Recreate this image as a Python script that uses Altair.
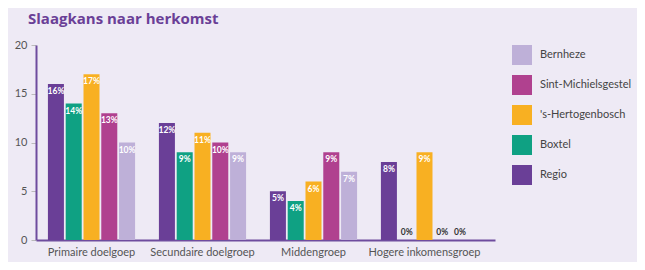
import altair as alt
import pandas as pd

groups = ["Primaire doelgoep", "Secundaire doelgroep", "Middengroep", "Hogere inkomensgroep"]
series = ["Regio", "Boxtel", "'s-Hertogenbosch", "Sint-Michielsgestel", "Bernheze"]
colors = ["#6A3F97", "#0FA183", "#F8B022", "#B0418F", "#BEB0D8"]
legend_order = ["Bernheze", "Sint-Michielsgestel", "'s-Hertogenbosch", "Boxtel", "Regio"]

regio = [16, 12, 5, 8]
boxtel = [14, 9, 4, 0]
hertogenbosch = [17, 11, 6, 9]
michielsgestel = [13, 10, 9, 0]
bernheze = [10, 9, 7, 0]

values = [regio, boxtel, hertogenbosch, michielsgestel, bernheze]
rows = []
for s, vals in zip(series, values):
    for g, v in zip(groups, vals):
        rows.append({"groep": g, "gemeente": s, "waarde": v, "label": f"{v}%"})
df = pd.DataFrame(rows)

FONT = "Lato"

x = alt.X("groep:N", sort=groups, title=None,
          scale=alt.Scale(paddingInner=0, paddingOuter=0.0676, align=0),
          axis=alt.Axis(labelAngle=0, labelFontSize=11, labelColor="#555",
                        labelFont=FONT, ticks=False, domainColor="#6E4C9E",
                        domainWidth=2, labelPadding=6))
xo = alt.XOffset("gemeente:N", sort=series,
                 scale=alt.Scale(paddingInner=0.1, paddingOuter=0.67))
y = alt.Y("waarde:Q", title=None,
          scale=alt.Scale(domain=[0, 20]),
          axis=alt.Axis(values=[0, 5, 10, 15, 20], grid=False, labelFontSize=11,
                        labelColor="#555", labelFont=FONT, tickColor="#bbb",
                        tickSize=5, domainColor="#6E4C9E", domainWidth=2,
                        labelPadding=4))

base = alt.Chart(df)

bars = base.mark_bar().encode(
    x=x, xOffset=xo, y=y,
    color=alt.Color("gemeente:N", sort=series,
                    scale=alt.Scale(domain=series, range=colors),
                    legend=alt.Legend(title=None, values=legend_order,
                                      symbolType="square", symbolSize=400,
                                      symbolStrokeWidth=0, labelFontSize=11,
                                      labelColor="#444", labelFont=FONT,
                                      rowPadding=10, labelOffset=8,
                                      offset=17, padding=0)),
)

labels_in = base.mark_text(baseline="top", dy=3, fontSize=8.5, fontWeight="bold",
                           color="white", font=FONT).encode(
    x=x, xOffset=xo, y=y, text="label:N"
).transform_filter("datum.waarde > 0")

labels_zero = base.mark_text(baseline="bottom", dy=-3, fontSize=8.5, fontWeight="bold",
                             color="#333", font=FONT).encode(
    x=x, xOffset=xo, y=y, text="label:N"
).transform_filter("datum.waarde == 0")

chart = alt.layer(bars, labels_in, labels_zero).properties(
    width=459, height=195,
    background="#EEEAF5",
    padding={"left": 28, "top": 37, "right": 142, "bottom": 22},
    autosize=alt.AutoSizeParams(type="none"),
    title=alt.TitleParams("Slaagkans naar herkomst", anchor="start", fontSize=15,
                          fontWeight="bold", color="#6A3F97", font="Open Sans",
                          frame="group", dx=-8, offset=12),
).configure_view(stroke=None)

chart.save("out.html", embed_options={"renderer": "svg", "actions": False})
